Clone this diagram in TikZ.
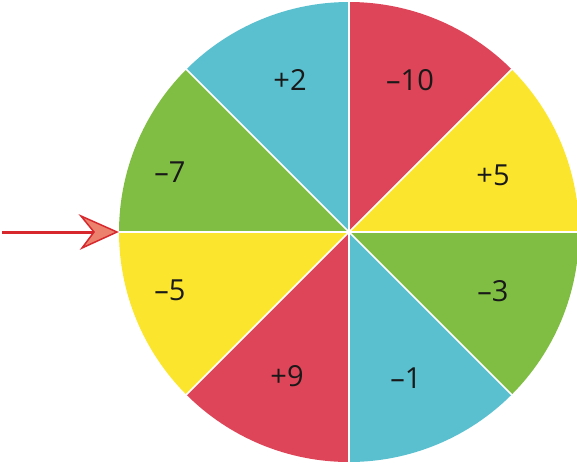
\documentclass[tikz,border=0pt]{standalone}
\usepackage{fontspec}
\setmainfont{Open Sans}
\definecolor{wred}{RGB}{222,69,89}
\definecolor{wblue}{RGB}{90,192,208}
\definecolor{wyellow}{RGB}{252,230,45}
\definecolor{wgreen}{RGB}{128,190,67}
\definecolor{arrred}{RGB}{215,40,45}
\definecolor{arrfill}{RGB}{236,130,110}
\tikzset{
  num/.style={font=\fontsize{29}{34}\selectfont, text=black!90},
  arrline/.style={draw=arrred, line width=3pt},
  arrhead/.style={draw=arrred, fill=arrfill, line width=1.5pt, line join=miter},
}
\begin{document}
\begin{tikzpicture}[x=1pt,y=-1pt]
\useasboundingbox (0,0) rectangle (577,466);
\begin{scope}
\clip (0,0) rectangle (577,466);
\coordinate (c) at (349,232);
\def\R{230}
\foreach \a/\col in {45/wred, 0/wyellow, -45/wgreen, -90/wblue, -135/wred, 180/wyellow, 135/wgreen, 90/wblue}{
  \fill[\col] (c) -- ++({\a}:{\R} and {-\R}) arc[start angle={-\a}, end angle={-\a-45}, radius=\R] -- cycle;
}
\foreach \a in {0,45,...,315}{
  \draw[white, line width=1.6pt] (c) -- ++({\a}:{\R+5} and {-(\R+5)});
}
\end{scope}
% labels
\node[num] (l1) at (410,80) {–10};
\node[num] (l2) at (493,175) {+5};
\node[num] (l3) at (493,291) {–3};
\node[num] (l4) at (406,378) {–1};
\node[num] (l5) at (287,376) {+9};
\node[num] (l6) at (170,290) {–5};
\node[num] (l7) at (170,172) {–7};
\node[num] (l8) at (290,80) {+2};
% arrow
\coordinate (astart) at (2,232);
\coordinate (anotch) at (94,232);
\coordinate (atip) at (117,232);
\draw[arrline] (astart) -- (anotch);
\draw[arrhead] (atip) -- (81,216) -- (anotch) -- (82,248) -- cycle;
\end{tikzpicture}
\end{document}
